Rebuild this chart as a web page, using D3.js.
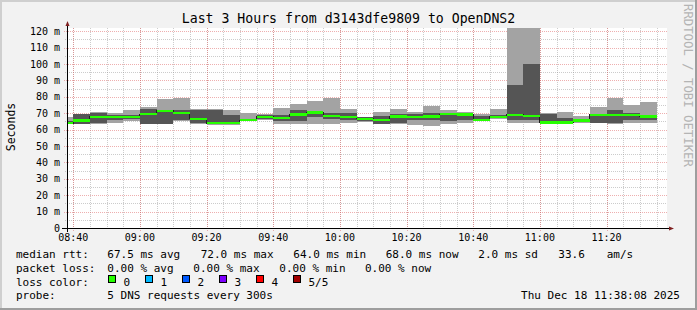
<!DOCTYPE html>
<html>
<head>
<meta charset="utf-8">
<script src="https://cdn.jsdelivr.net/npm/d3@7"></script>
<style>
    html, body { margin: 0; padding: 0; background: #f2f2f2; }
    svg { display: block; }
    text { font-family: "DejaVu Sans Mono", monospace; fill: #000; }
</style>
</head>
<body>
<svg id="chart" width="697" height="310"></svg>
<script>
// 5 minute bins, 5 DNS pings each (sorted: lowest, 2nd, median, 4th, highest), in ms
const binStarts = ["08:35", "08:40", "08:45", "08:50", "08:55", "09:00", "09:05", "09:10", "09:15",
    "09:20", "09:25", "09:30", "09:35", "09:40", "09:45", "09:50", "09:55", "10:00", "10:05",
    "10:10", "10:15", "10:20", "10:25", "10:30", "10:35", "10:40", "10:45", "10:50", "10:55",
    "11:00", "11:05", "11:10", "11:15", "11:20", "11:25", "11:30"]
const ping1 = [63.5, 63.3, 63.5, 64.0, 65.0, 63.3, 63.3, 65.0, 63.5, 63.0, 63.0, 65.5, 65.8, 63.5, 63.5,
    63.5, 63.5, 64.0, 64.5, 63.3, 63.5, 62.8, 62.0, 63.3, 64.0, 65.5, 66.5, 63.9, 63.9, 63.5, 63.5,
    64.0, 63.8, 63.5, 64.0, 63.9]
const ping2 = [64.0, 63.5, 63.9, 66.0, 66.3, 63.5, 63.5, 66.0, 64.0, 63.5, 63.5, 65.7, 66.2, 65.5, 65.3,
    68.0, 66.5, 66.0, 65.5, 63.5, 63.8, 66.0, 66.0, 65.3, 66.0, 65.8, 66.8, 65.9, 65.9, 64.0, 64.0,
    64.5, 64.0, 64.0, 66.0, 66.0]
const median = [64.0, 65.5, 67.8, 67.8, 67.8, 69.5, 71.5, 70.3, 66.5, 64.0, 64.0, 65.7, 67.8, 67.2, 69.2,
    70.5, 68.5, 67.8, 66.5, 66.0, 68.0, 67.8, 68.0, 69.5, 69.3, 66.0, 67.8, 69.0, 68.5, 64.3, 64.3,
    65.5, 69.0, 69.0, 69.0, 68.0]
const ping4 = [65.0, 69.6, 70.4, 69.0, 69.0, 72.4, 72.0, 72.0, 72.0, 72.0, 69.0, 66.0, 69.0, 69.0, 72.0,
    71.0, 70.0, 70.4, 67.5, 68.5, 69.5, 69.5, 70.0, 70.2, 70.4, 68.5, 69.0, 87.2, 100.0, 69.5, 67.0,
    66.2, 69.5, 72.0, 70.4, 68.5]
const ping5 = [67.9, 69.8, 70.6, 70.0, 72.0, 73.6, 78.8, 79.5, 72.3, 72.3, 72.0, 70.3, 69.5, 73.4, 75.7,
    77.5, 79.0, 72.6, 68.0, 70.7, 72.6, 70.8, 74.5, 72.0, 70.8, 69.6, 72.3, 125.0, 125.0, 70.0, 70.5,
    68.3, 74.0, 79.5, 75.0, 76.8]

const yTicks = [0, 10, 20, 30, 40, 50, 60, 70, 80, 90, 100, 110, 120]
const yMinor = [5, 15, 25, 35, 45, 55, 65, 75, 85, 95, 105, 115]

const rttLabels = ["67.5 ms avg", "72.0 ms max", "64.0 ms min", "68.0 ms now", "2.0 ms sd", "33.6", "am/s"]
const lossLabels = ["0.00 % avg", "0.00 % max", "0.00 % min", "0.00 % now"]
const lossLevels = ["0", "1", "2", "3", "4", "5/5"]
const lossColors = ["#26ff00", "#00b8ff", "#0059ff", "#7e00ff", "#ff0000", "#a10000"]

const title = "Last 3 Hours from d3143dfe9809 to OpenDNS2"
const probeText = "5 DNS requests every 300s"
const stampText = "Thu Dec 18 11:38:08 2025"

const W = 697, H = 310
const pLeft = 67, pRight = 667, pTop = 28, pBottom = 228

const parse = d3.timeParse("%Y-%m-%d %H:%M:%S")
const tStart = parse("2025-12-18 08:38:08")
const tEnd = parse("2025-12-18 11:38:08")
const bins = binStarts.map((s, i) => {
    let t = parse("2025-12-18 " + s + ":00")
    return { t0: t, t1: d3.timeMinute.offset(t, 5), p1: ping1[i], p2: ping2[i], med: median[i], p4: ping4[i], p5: ping5[i] }
})

const x = d3.scaleTime().domain([tStart, tEnd]).range([pLeft, pRight])
const y = d3.scaleLinear().domain([0, 122]).range([pBottom, pTop])

const svg = d3.select("#chart")

// frame + background
svg.append("rect").attr("width", W).attr("height", H).attr("fill", "#f2f2f2")
svg.append("path").attr("d", `M0,${H} V0 H${W}`).attr("fill", "none").attr("stroke", "#cfcfcf").attr("stroke-width", 4)
svg.append("path").attr("d", `M0,${H} H${W} V0`).attr("fill", "none").attr("stroke", "#9e9e9e").attr("stroke-width", 4)
svg.append("rect").attr("x", pLeft).attr("y", pTop).attr("width", pRight - pLeft).attr("height", pBottom - pTop).attr("fill", "#fff")

svg.append("clipPath").attr("id", "plot")
    .append("rect").attr("x", pLeft).attr("y", pTop).attr("width", pRight - pLeft).attr("height", pBottom - pTop)

// grid
const grid = svg.append("g").attr("shape-rendering", "crispEdges")
const minorColor = "rgba(143,143,143,0.45)", majorColor = "rgba(222,95,95,0.5)"

grid.selectAll(".vminor").data(d3.timeMinute.every(5).range(tStart, tEnd))
    .join("line").attr("x1", d => Math.round(x(d)) + 0.5).attr("x2", d => Math.round(x(d)) + 0.5)
    .attr("y1", pTop).attr("y2", pBottom + 2).attr("stroke", minorColor).attr("stroke-dasharray", "1,1")
grid.selectAll(".hminor").data(yMinor)
    .join("line").attr("x1", pLeft - 2).attr("x2", pRight).attr("y1", d => Math.round(y(d)) + 0.5).attr("y2", d => Math.round(y(d)) + 0.5)
    .attr("stroke", minorColor).attr("stroke-dasharray", "1,1")
grid.selectAll(".vmajor").data(d3.timeMinute.every(20).range(tStart, tEnd))
    .join("line").attr("x1", d => Math.round(x(d)) + 0.5).attr("x2", d => Math.round(x(d)) + 0.5)
    .attr("y1", pTop).attr("y2", pBottom + 3).attr("stroke", majorColor).attr("stroke-dasharray", "1,1")
grid.selectAll(".hmajor").data(yTicks)
    .join("line").attr("x1", pLeft - 3).attr("x2", pRight).attr("y1", d => Math.round(y(d)) + 0.5).attr("y2", d => Math.round(y(d)) + 0.5)
    .attr("stroke", majorColor).attr("stroke-dasharray", "1,1")

// smoke
const plot = svg.append("g").attr("clip-path", "url(#plot)").attr("shape-rendering", "crispEdges")
plot.selectAll(".outer").data(bins).join("rect")
    .attr("x", d => x(d.t0)).attr("width", d => x(d.t1) - x(d.t0))
    .attr("y", d => y(d.p5)).attr("height", d => y(d.p1) - y(d.p5))
    .attr("fill", "#a3a3a3")
plot.selectAll(".inner").data(bins).join("rect")
    .attr("x", d => x(d.t0)).attr("width", d => x(d.t1) - x(d.t0))
    .attr("y", d => y(d.p4)).attr("height", d => y(d.p2) - y(d.p4))
    .attr("fill", "#555555")

// median: thin dark step line plus a loss coloured band
let stepPts = bins.map(d => [d.t0, d.med])
stepPts.push([bins[bins.length - 1].t1, bins[bins.length - 1].med])
plot.append("path").datum(stepPts)
    .attr("d", d3.line().x(d => x(d[0])).y(d => y(d[1])).curve(d3.curveStepAfter))
    .attr("fill", "none").attr("stroke", "#202020").attr("stroke-width", 1)
plot.selectAll(".med").data(bins).join("rect")
    .attr("x", d => x(d.t0)).attr("width", d => x(d.t1) - x(d.t0))
    .attr("y", d => y(d.med) - 1.2).attr("height", 2.4)
    .attr("fill", lossColors[0])

// axes
const axis = svg.append("g").attr("shape-rendering", "crispEdges")
axis.append("line").attr("x1", pLeft - 5).attr("x2", pRight + 3).attr("y1", pBottom + 0.5).attr("y2", pBottom + 0.5).attr("stroke", "#000")
axis.append("line").attr("x1", pLeft + 0.5).attr("x2", pLeft + 0.5).attr("y1", pBottom + 4).attr("y2", pTop - 3).attr("stroke", "#000")
svg.append("path").attr("d", `M${pLeft - 1.5},${pTop - 2} L${pLeft + 0.5},${pTop - 7} L${pLeft + 2.5},${pTop - 2} Z`).attr("fill", "#7f1f1f")
svg.append("path").attr("d", `M${pRight + 2},${pBottom - 1.5} L${pRight + 7},${pBottom + 0.5} L${pRight + 2},${pBottom + 2.5} Z`).attr("fill", "#7f1f1f")

svg.append("g").selectAll("text").data(yTicks).join("text")
    .attr("x", 60).attr("y", d => y(d) + 3.6).attr("text-anchor", "end").attr("font-size", "10px")
    .text(d => d === 0 ? "0" : d + " m")

svg.append("g").selectAll("text").data(d3.timeMinute.every(20).range(tStart, tEnd)).join("text")
    .attr("x", d => x(d)).attr("y", 241).attr("text-anchor", "middle").attr("font-size", "10px")
    .text(d3.timeFormat("%H:%M"))

// titles
svg.append("text").attr("x", 348.5).attr("y", 23.3).attr("text-anchor", "middle").attr("font-size", "13.2px").text(title)
svg.append("text").attr("transform", "translate(15,127) rotate(-90)").attr("text-anchor", "middle")
    .attr("font-size", "11.5px").text("Seconds")
svg.append("text").attr("transform", "translate(683.5,4) rotate(90)").attr("font-size", "12.3px")
    .style("fill", "#b4b4b4").text("RRDTOOL / TOBI OETIKER")

// legend
const lg = svg.append("g").attr("font-size", "11px").attr("xml:space", "preserve")
const rttX = [107.3, 200.7, 293.3, 385.7, 478.3, 558.3, 606.7]
lg.append("text").attr("x", 16).attr("y", 258).text("median rtt:")
lg.selectAll(".rtt").data(rttLabels).join("text").attr("class", "rtt").attr("x", (d, i) => rttX[i]).attr("y", 258).text(d => d)

const lossX = [107.3, 193.3, 279.3, 365]
lg.append("text").attr("x", 16).attr("y", 272).text("packet loss:")
lg.selectAll(".loss").data(lossLabels).join("text").attr("class", "loss").attr("x", (d, i) => lossX[i]).attr("y", 272).text(d => d)

lg.append("text").attr("x", 16).attr("y", 285.5).text("loss color:")
const sw = lg.selectAll(".sw").data(lossLevels).join("g").attr("class", "sw").attr("transform", (d, i) => `translate(${108.5 + i * 37},275)`)
sw.append("rect").attr("width", 7).attr("height", 7).attr("fill", (d, i) => lossColors[i])
    .attr("stroke", "#000").attr("stroke-width", 1).attr("shape-rendering", "crispEdges")
sw.append("text").attr("x", 15).attr("y", 10.5).text(d => d)

lg.append("text").attr("x", 16).attr("y", 299).text("probe:")
lg.append("text").attr("x", 107.3).attr("y", 299).text(probeText)
lg.append("text").attr("x", 680).attr("y", 299).attr("text-anchor", "end").text(stampText)
</script>
</body>
</html>
